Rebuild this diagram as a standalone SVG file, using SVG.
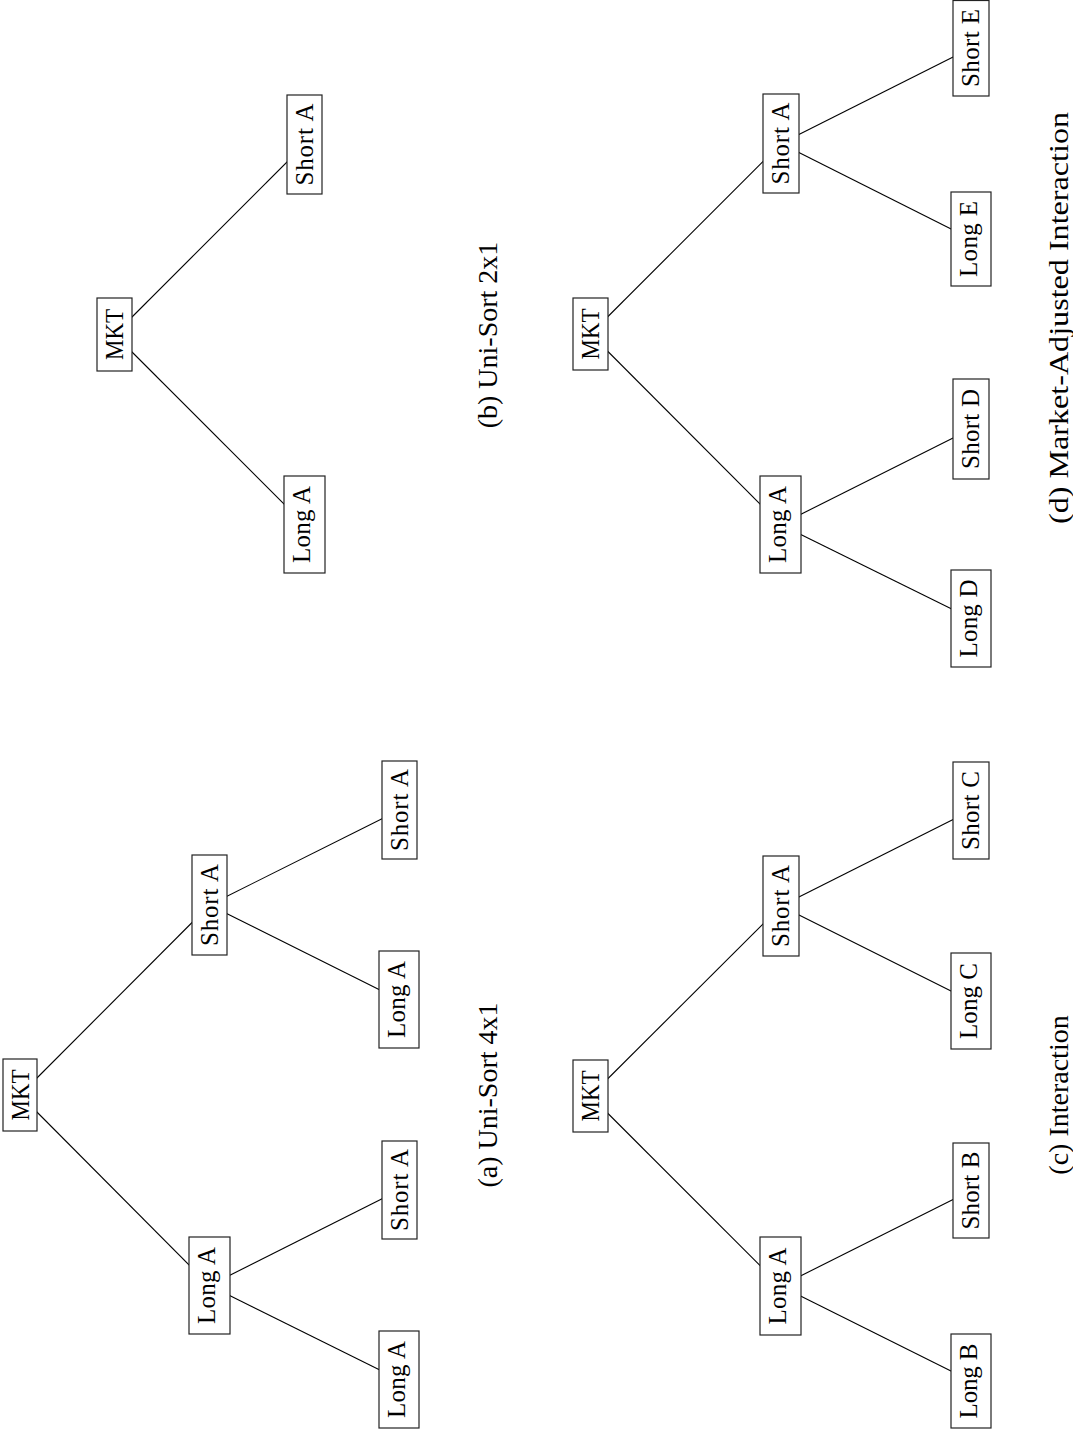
<svg xmlns="http://www.w3.org/2000/svg" width="1073" height="1431" viewBox="0 0 1073 1431">
<style>
.bg{fill:#ffffff}
.e line{stroke:#000;stroke-width:1.1}
.n rect{fill:#fff;stroke:#222;stroke-width:1.2}
.n text{font-family:"Liberation Serif","DejaVu Serif",serif;font-size:25px;fill:#000;text-anchor:middle}
.cap{font-family:"Liberation Serif","DejaVu Serif",serif;font-size:28px;fill:#000;text-anchor:middle}
</style>
<rect class="bg" x="0" y="0" width="1073" height="1431"/>
<g id="connectors" class="e">
<line x1="20" y1="1095" x2="209.5" y2="1285.5"/>
<line x1="20" y1="1095" x2="209.5" y2="905"/>
<line x1="209.5" y1="1285.5" x2="399" y2="1379.5"/>
<line x1="209.5" y1="1285.5" x2="399.5" y2="1190"/>
<line x1="209.5" y1="905" x2="399" y2="999.5"/>
<line x1="209.5" y1="905" x2="399.5" y2="810"/>
<line x1="114.5" y1="334.5" x2="304.5" y2="144.5"/>
<line x1="114.5" y1="334.5" x2="304.5" y2="524.5"/>
<line x1="590.5" y1="1096" x2="780.5" y2="1286"/>
<line x1="590.5" y1="1096" x2="781" y2="906"/>
<line x1="780.5" y1="1286" x2="971" y2="1381"/>
<line x1="780.5" y1="1286" x2="971" y2="1190.5"/>
<line x1="781" y1="906" x2="971" y2="1001"/>
<line x1="781" y1="906" x2="971" y2="810.5"/>
<line x1="590.5" y1="334" x2="780.5" y2="524.5"/>
<line x1="590.5" y1="334" x2="781" y2="143.5"/>
<line x1="780.5" y1="524.5" x2="971" y2="618.5"/>
<line x1="780.5" y1="524.5" x2="971" y2="429"/>
<line x1="781" y1="143.5" x2="971" y2="239"/>
<line x1="781" y1="143.5" x2="971" y2="48"/>
</g>
<g id="a-mkt" class="n"><rect x="3" y="1059" width="34" height="72"/><text transform="translate(28.5,1095) rotate(-90)" textLength="51" lengthAdjust="spacingAndGlyphs">MKT</text></g>
<g id="a-longA" class="n"><rect x="189" y="1237" width="41" height="97"/><text transform="translate(214.5,1285.5) rotate(-90)" textLength="77">Long A</text></g>
<g id="a-shortA" class="n"><rect x="192" y="855" width="35" height="100"/><text transform="translate(217.5,905) rotate(-90)" textLength="82">Short A</text></g>
<g id="a-longA-longA" class="n"><rect x="379" y="1331" width="40" height="97"/><text transform="translate(404.5,1379.5) rotate(-90)" textLength="77">Long A</text></g>
<g id="a-longA-shortA" class="n"><rect x="382" y="1141" width="35" height="98"/><text transform="translate(407.5,1190) rotate(-90)" textLength="82">Short A</text></g>
<g id="a-shortA-longA" class="n"><rect x="379" y="951" width="40" height="97"/><text transform="translate(404.5,999.5) rotate(-90)" textLength="77">Long A</text></g>
<g id="a-shortA-shortA" class="n"><rect x="382" y="761" width="35" height="98"/><text transform="translate(407.5,810) rotate(-90)" textLength="82">Short A</text></g>
<text class="cap" transform="translate(497,1095) rotate(-90)">(a) Uni-Sort 4x1</text>

<g id="b-mkt" class="n"><rect x="97" y="298" width="35" height="73"/><text transform="translate(122.5,334.5) rotate(-90)" textLength="51" lengthAdjust="spacingAndGlyphs">MKT</text></g>
<g id="b-shortA" class="n"><rect x="287" y="95" width="35" height="99"/><text transform="translate(312.5,144.5) rotate(-90)" textLength="82">Short A</text></g>
<g id="b-longA" class="n"><rect x="284" y="476" width="41" height="97"/><text transform="translate(309.5,524.5) rotate(-90)" textLength="77">Long A</text></g>
<text class="cap" transform="translate(497,335) rotate(-90)">(b) Uni-Sort 2x1</text>

<g id="c-mkt" class="n"><rect x="573" y="1060" width="35" height="72"/><text transform="translate(598.5,1096) rotate(-90)" textLength="51" lengthAdjust="spacingAndGlyphs">MKT</text></g>
<g id="c-longA" class="n"><rect x="760" y="1237" width="41" height="98"/><text transform="translate(785.5,1286) rotate(-90)" textLength="77">Long A</text></g>
<g id="c-shortA" class="n"><rect x="763" y="856" width="36" height="100"/><text transform="translate(788.5,906) rotate(-90)" textLength="82">Short A</text></g>
<g id="c-longB" class="n"><rect x="951" y="1334" width="40" height="94"/><text transform="translate(976.5,1381) rotate(-90)" textLength="75">Long B</text></g>
<g id="c-shortB" class="n"><rect x="953" y="1143" width="36" height="95"/><text transform="translate(978.5,1190.5) rotate(-90)" textLength="78">Short B</text></g>
<g id="c-longC" class="n"><rect x="951" y="953" width="40" height="96"/><text transform="translate(976.5,1001) rotate(-90)" textLength="76">Long C</text></g>
<g id="c-shortC" class="n"><rect x="953" y="762" width="36" height="97"/><text transform="translate(978.5,810.5) rotate(-90)" textLength="79">Short C</text></g>
<text class="cap" transform="translate(1068,1095) rotate(-90)">(c) Interaction</text>

<g id="d-mkt" class="n"><rect x="573" y="298" width="35" height="72"/><text transform="translate(598.5,334) rotate(-90)" textLength="51" lengthAdjust="spacingAndGlyphs">MKT</text></g>
<g id="d-longA" class="n"><rect x="760" y="476" width="41" height="97"/><text transform="translate(785.5,524.5) rotate(-90)" textLength="77">Long A</text></g>
<g id="d-shortA" class="n"><rect x="763" y="94" width="36" height="99"/><text transform="translate(788.5,143.5) rotate(-90)" textLength="82">Short A</text></g>
<g id="d-longD" class="n"><rect x="951" y="570" width="40" height="97"/><text transform="translate(976.5,618.5) rotate(-90)" textLength="78">Long D</text></g>
<g id="d-shortD" class="n"><rect x="953" y="379" width="36" height="100"/><text transform="translate(978.5,429) rotate(-90)" textLength="80">Short D</text></g>
<g id="d-longE" class="n"><rect x="951" y="192" width="40" height="94"/><text transform="translate(976.5,239) rotate(-90)" textLength="76">Long E</text></g>
<g id="d-shortE" class="n"><rect x="953" y="0.5" width="36" height="95.5"/><text transform="translate(978.5,48) rotate(-90)" textLength="78">Short E</text></g>
<text class="cap" transform="translate(1068,318) rotate(-90)" textLength="412" lengthAdjust="spacingAndGlyphs">(d) Market-Adjusted Interaction</text>
</svg>
